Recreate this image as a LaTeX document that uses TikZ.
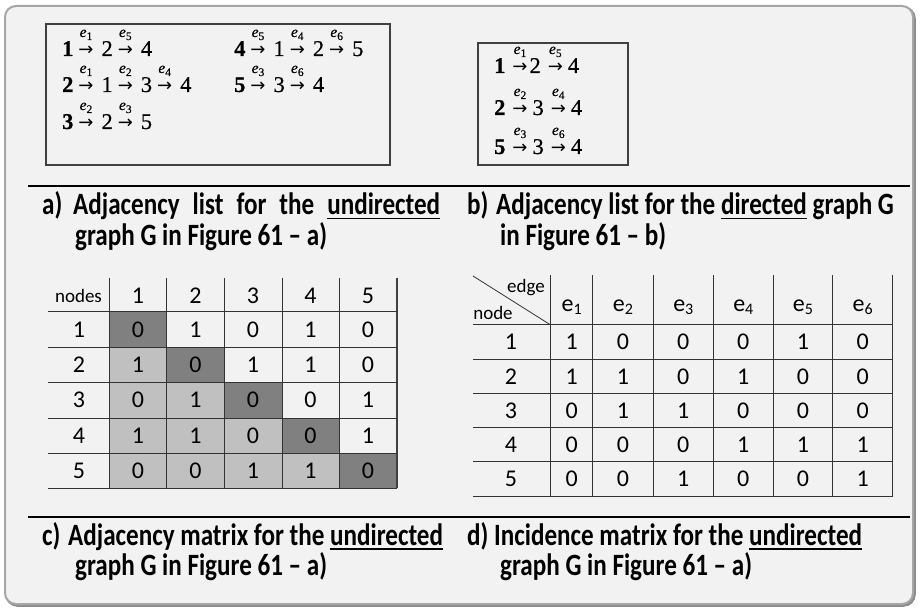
\documentclass[tikz,border=0pt]{standalone}
\usepackage{graphicx}
\usepackage{fontspec}
\newfontfamily\calf{Carlito}
\newfontfamily\capf[FakeStretch=0.81]{Carlito}
\newfontfamily\dejav{DejaVu Sans}
\newfontfamily\lstf[FakeBold=0.5]{Liberation Serif}
\definecolor{bgc}{HTML}{F2F2F2}
\definecolor{frc}{HTML}{A6A6A6}
\definecolor{dkc}{HTML}{808080}
\definecolor{ltc}{HTML}{C0C0C0}
\newcommand\myul[1]{\setbox0\hbox{#1}\rlap{\rule[-4.5pt]{\wd0}{1.8pt}}\box0\relax}
% arrow with edge label above: #1 gap before, #2 edge index, #3 gap after
\newcommand\arrg[3]{\hspace{#1}\setbox2\hbox{\dejav\fontsize{18}{18}\selectfont →}%
  \rlap{\makebox[\wd2]{\raisebox{19pt}[0pt][0pt]{\lstf\fontsize{15.5}{16}\selectfont\itshape e\raisebox{-3pt}{\fontsize{11.5}{12}\selectfont\upshape #2}}}}\box2\hspace{#3}}
\newcommand\arr[1]{\arrg{5pt}{#1}{8pt}}
\newcommand\arb[1]{\arrg{7pt}{#1}{5pt}}
\begin{document}
\begin{tikzpicture}[x=1pt,y=-1pt,
  capt/.style={font={\capf\bfseries\fontsize{31}{36}\selectfont}, inner sep=0pt, anchor=base west},
  cell/.style={font={\calf\fontsize{24}{28}\selectfont}, inner sep=0pt},
  small/.style={font={\calf\fontsize{19}{22}\selectfont}, inner sep=0pt},
  lst/.style={font={\lstf\fontsize{22.5}{26}\selectfont}, inner sep=0pt, anchor=base west},
  grid/.style={line width=1pt, draw=black!80},
  box/.style={line width=1.3pt, draw=black!75, fill=bgc},
  sep/.style={line width=1.5pt, draw=black}]
\useasboundingbox (0,0) rectangle (921,612);
\fill[white] (0,0) rectangle (921,612);
\draw[line width=2.5pt, draw=black!45, rounded corners=11pt] (6.5,7.5) rectangle (914.5,605.5);
\draw[line width=2pt, draw=frc, fill=bgc, rounded corners=11pt] (5,6) rectangle (913,604);
% boxes a and b
\draw[box] (46,24) rectangle (390,165);
\draw[box] (478,43) rectangle (628,165);
\node[lst] (la1) at (62,56) {\textbf{1}\arr{1}2\arr{5}4};
\node[lst] (la2) at (62,92) {\textbf{2}\arr{1}1\arr{2}3\arr{4}4};
\node[lst] (la3) at (62,129) {\textbf{3}\arr{2}2\arr{3}5};
\node[lst] (la4) at (234,56) {\textbf{4}\arr{5}1\arr{4}2\arr{6}5};
\node[lst] (la5) at (234,92) {\textbf{5}\arr{3}3\arr{6}4};
\node[lst] (lb1) at (494,73) {\textbf{1}\arrg{7pt}{1}{2pt}2\arb{5}4};
\node[lst] (lb2) at (494,115) {\textbf{2}\arb{2}3\arb{4}4};
\node[lst] (lb3) at (494,154) {\textbf{5}\arb{3}3\arb{6}4};
% separators
\draw[sep] (28,186) -- (910,186);
\draw[sep] (28,517) -- (910,517);
% captions a, b
\node[capt] (capa) at (42,215) {a)};
\node[capt] (capa1) at (73,215) {\hbox to 367pt{Adjacency\hfill list\hfill for\hfill the\hfill\myul{undirected}}};
\node[capt] (capa2) at (75,246) {graph G in Figure 61 – a)};
\node[capt] (capb) at (467,215) {b)};
\node[capt] (capb1) at (496,215) {Adjacency list for the \myul{directed} graph G};
\node[capt] (capb2) at (500,246) {in Figure 61 – b)};
% captions c, d
\node[capt] (capc) at (42,545) {c)};
\node[capt] (capc1) at (68,545) {Adjacency matrix for the \myul{undirected}};
\node[capt] (capc2) at (75,575) {graph G in Figure 61 – a)};
\node[capt] (capd) at (467,545) {d)};
\node[capt] (capd1) at (494,545) {Incidence matrix for the \myul{undirected}};
\node[capt] (capd2) at (500,575) {graph G in Figure 61 – a)};
% ---- adjacency matrix (c)
\foreach \r in {1,...,5}{
  \fill[dkc] ({109.3+57.48*(\r-1)},{311.7+35.32*(\r-1)}) rectangle ({109.3+57.48*\r},{311.7+35.32*\r});
}
\foreach \r in {2,...,5}{
  \pgfmathtruncatemacro\rm{\r-1}
  \foreach \c in {1,...,\rm}{
    \fill[ltc] ({109.3+57.48*(\c-1)},{311.7+35.32*(\r-1)}) rectangle ({109.3+57.48*\c},{311.7+35.32*\r});
  }
}
\foreach \x in {109.3,166.7,224.3,282.3,339.3}
  \draw[grid] (\x,278) -- (\x,488.3);
\draw[line width=1.8pt, draw=black!75] (396.7,278) -- (396.7,488.3);
\foreach \y in {311.7,347.3,382.7,418.3,453.3,488.3}
  \draw[grid] (48,\y) -- (396.7,\y);
\node[small, anchor=base] (cnodes) at (78.5,302.3) {nodes};
\foreach \c in {1,...,5}{
  \node[cell] (ch\c) at ({109.3+57.48*(\c-0.5)},295.5) {\c};
  \node[cell] (cr\c) at (79,{311.7+35.32*(\c-0.5)}) {\c};
}
\foreach \r/\vals in {1/{0,1,0,1,0},2/{1,0,1,1,0},3/{0,1,0,0,1},4/{1,1,0,0,1},5/{0,0,1,1,0}}{
  \foreach \v [count=\c] in \vals{
    \node[cell] (c-\r-\c) at ({109.3+57.48*(\c-0.5)},{311.7+35.32*(\r-0.5)}) {\v};
  }
}
% ---- incidence matrix (d)
\foreach \x in {550.7,592.7,653.3,713.3,773.3,832.7,892.7}
  \draw[grid] (\x,275) -- (\x,496);
\foreach \y in {325,359,393.3,427.3,461.7,496}
  \draw[grid] (473,\y) -- (892.7,\y);
\draw[line width=0.8pt, draw=black!80] (473,276) -- (550.7,325);
\node[small, anchor=base] (dedge) at (526,293) {edge};
\node[small, anchor=base] (dnode) at (493,319.3) {node};
\foreach \xc [count=\c] in {571.7,623,683.3,743.3,803,862.7}{
  \node[cell, anchor=base] (dh\c) at (\xc,311.7) {e\raisebox{-0.12em}{\fontsize{16}{18}\selectfont\c}};
}
\foreach \r in {1,...,5}{
  \node[cell] (dr\r) at (511,{325+34.2*(\r-0.5)}) {\r};
}
\foreach \r/\vals in {1/{1,0,0,0,1,0},2/{1,1,0,1,0,0},3/{0,1,1,0,0,0},4/{0,0,0,1,1,1},5/{0,0,1,0,0,1}}{
  \foreach \v [count=\c] in \vals{
    \pgfmathsetmacro\xc{{571.7,623,683.3,743.3,803,862.7}[\c-1]}
    \node[cell] (d-\r-\c) at (\xc,{325+34.2*(\r-0.5)}) {\v};
  }
}
\end{tikzpicture}
\end{document}
